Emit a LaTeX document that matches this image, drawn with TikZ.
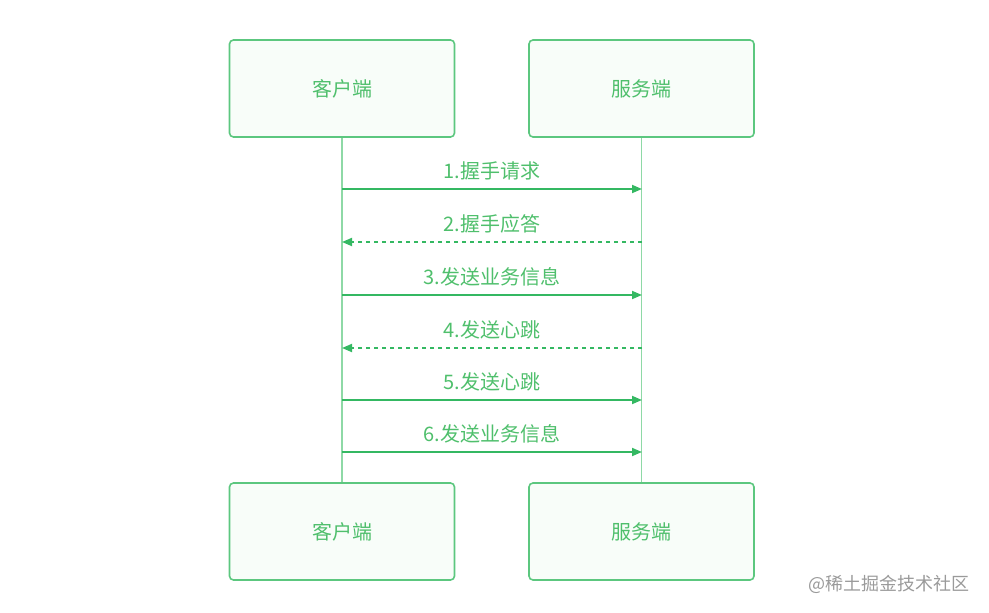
\documentclass[tikz,border=0pt]{standalone}
\usepackage{fontspec}
\setmainfont{Noto Sans CJK SC}
\usetikzlibrary{arrows.meta}
\definecolor{boxline}{HTML}{5CC77F}
\definecolor{boxfill}{HTML}{F8FDF9}
\definecolor{txt}{HTML}{4FBF6C}
\definecolor{life}{HTML}{8ED9A6}
\definecolor{arr}{HTML}{34B862}
\definecolor{wm}{HTML}{9A9A9A}
\tikzset{
  actor/.style={draw=boxline, fill=boxfill, line width=1.6pt, rounded corners=4pt,
    minimum width=225pt, minimum height=97pt, inner sep=0pt, text=txt, font=\fontsize{20}{24}\selectfont},
  lifeline/.style={draw=life, line width=1.1pt},
  msg/.style={draw=arr, line width=1.8pt, -{Triangle[length=10pt,width=8pt]}},
  reply/.style={msg, dash pattern=on 4pt off 4pt},
  lbl/.style={text=txt, font=\fontsize{20}{24}\selectfont, inner sep=0pt, anchor=base},
}
\begin{document}
\begin{tikzpicture}[x=1pt,y=-1pt]
\useasboundingbox (0,0) rectangle (989,613);
\node[actor] (c1) at (342,88.5) {\raisebox{-1.5pt}{客户端}};
\node[actor] (s1) at (641.5,88.5) {\raisebox{-1.5pt}{服务端}};
\node[actor] (c2) at (342,531.5) {\raisebox{-1.5pt}{客户端}};
\node[actor] (s2) at (641.5,531.5) {\raisebox{-1.5pt}{服务端}};
\draw[lifeline] (c1.south) -- (c2.north);
\draw[lifeline] (s1.south) -- (s2.north);
\foreach \n/\y in {1/189,2/242,3/295,4/348,5/400,6/452}{
  \coordinate (cl\n) at (342,\y);
  \coordinate (sl\n) at (642,\y);
}
\draw[msg] (cl1) -- (sl1) node[lbl, midway, yshift=11pt] {1.握手请求};
\draw[reply] (sl2) -- (cl2) node[lbl, midway, yshift=11pt] {2.握手应答};
\draw[msg] (cl3) -- (sl3) node[lbl, midway, yshift=11pt] {3.发送业务信息};
\draw[reply] (sl4) -- (cl4) node[lbl, midway, yshift=11pt] {4.发送心跳};
\draw[msg] (cl5) -- (sl5) node[lbl, midway, yshift=11pt] {5.发送心跳};
\draw[msg] (cl6) -- (sl6) node[lbl, midway, yshift=11pt] {6.发送业务信息};
\node[text=wm, font=\fontsize{18}{21}\selectfont, anchor=east, inner sep=0pt] (wmk) at (970,584) {@稀土掘金技术社区};
\end{tikzpicture}
\end{document}
